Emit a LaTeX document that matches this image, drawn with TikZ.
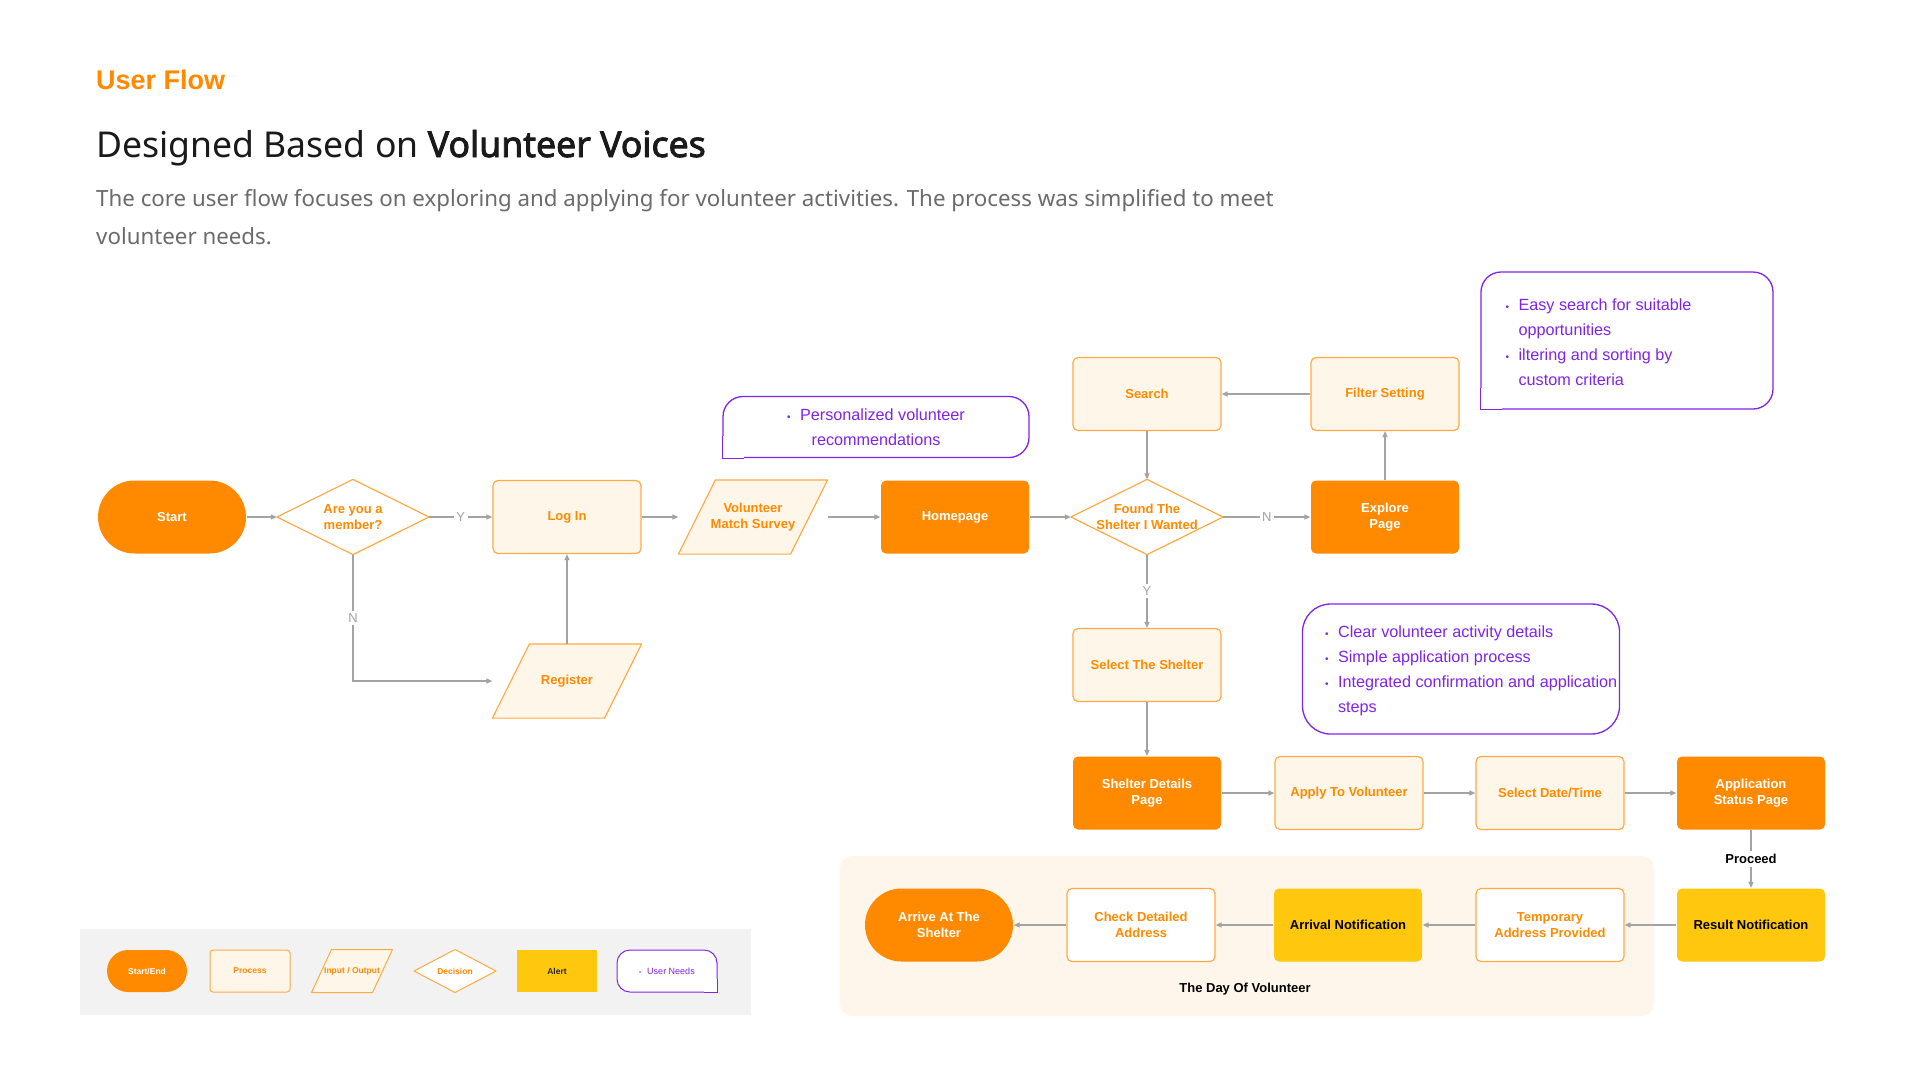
\documentclass[tikz,border=0pt]{standalone}
\usepackage{fontspec}
\setmainfont{Liberation Sans}
\newfontfamily\hfont{Noto Sans}
\newfontfamily\hbfont{Noto Sans}[FakeBold=2.5]
\usetikzlibrary{arrows.meta,backgrounds}
\definecolor{org}{HTML}{FF8A00}
\definecolor{orgl}{HTML}{FFAA45}
\definecolor{cream}{HTML}{FFF6EA}
\definecolor{ylw}{HTML}{FFC80F}
\definecolor{pur}{HTML}{8024EA}
\definecolor{gry}{HTML}{A3A3A3}
\definecolor{panelc}{HTML}{FFF6EB}
\definecolor{legc}{HTML}{F2F2F2}
\definecolor{txtg}{HTML}{6B6B6B}
\definecolor{ttlc}{HTML}{1A1A1A}
\newcommand{\bul}{\makebox[13pt][l]{\fontsize{10}{10}\selectfont\textbullet}}
\newcommand{\bulsp}{\makebox[13pt][l]{}}
\begin{document}
\begin{tikzpicture}[x=1pt,y=-1pt,
  nfont/.style={font=\fontsize{13}{16}\selectfont\bfseries},
  nodebase/.style={minimum width=148pt,minimum height=73pt,inner sep=2pt,align=center,nfont,rounded corners=5pt,line width=1.2pt},
  termbox/.style={nodebase,fill=org,text=white,rounded corners=36.5pt},
  fillbox/.style={nodebase,fill=org,text=white},
  proc/.style={nodebase,draw=orgl,fill=cream,text=org},
  wproc/.style={nodebase,draw=orgl,fill=white,text=org},
  alertbox/.style={nodebase,fill=ylw,text=black},
  holder/.style={nodebase,text=org},
  dholder/.style={holder,minimum width=151pt,minimum height=74pt},
  dpath/.style={draw=orgl,fill=white,line width=1.2pt,line join=round},
  iopath/.style={draw=orgl,fill=cream,line width=1.2pt,line join=round},
  conn/.style={draw=gry,line width=1.2pt,-{Triangle[length=6pt,width=5pt]}},
  lbl/.style={fill=white,text=gry,font=\fontsize{13}{15}\selectfont,inner sep=2.5pt},
  blbl/.style={fill=white,text=black,font=\fontsize{13}{15}\selectfont\bfseries,inner sep=3pt},
  needs/.style={draw=pur,line width=1.3pt,fill=white,rounded corners=20pt,inner sep=0pt},
  ntext/.style={text=pur,font=\fontsize{16.2}{25}\selectfont,inner sep=0pt},
  lg/.style={minimum width=80pt,minimum height=42pt,inner sep=1pt,align=center,font=\fontsize{8.5}{10}\selectfont\bfseries,line width=1pt,rounded corners=3pt},
  lgterm/.style={lg,fill=org,text=white,rounded corners=21pt},
  lgproc/.style={lg,draw=orgl,fill=cream,text=org},
  lghold/.style={lg,text=org},
  lgalert/.style={lg,fill=ylw,text=black!85,rounded corners=0pt},
  lgneeds/.style={lg,draw=pur,fill=white,text=pur,rounded corners=13pt,font=\fontsize{9}{10}\selectfont}
]
\useasboundingbox (0,0) rectangle (1920,1080);
\begin{scope}[on background layer]
  \fill[white] (0,0) rectangle (1920,1080);
  \node[fill=panelc,rounded corners=12pt,minimum width=814pt,minimum height=160pt,inner sep=0pt] (daypanel) at (1247,936) {};
  \node[fill=legc,minimum width=671pt,minimum height=86pt,inner sep=0pt] (legend) at (415.5,972) {};
\end{scope}

% header
\node[anchor=base west,inner sep=0pt,text=org,font=\fontsize{27}{30}\selectfont\bfseries] (uflow) at (96,89) {User Flow};
\node[anchor=base west,inner sep=0pt,text=ttlc,font=\hfont\fontsize{35.6}{40}\selectfont] (title) at (96,157) {Designed Based on {\hbfont Volunteer Voices}};
\node[anchor=base west,inner sep=0pt,text=txtg,font=\hfont\fontsize{22.3}{26}\selectfont] (para1) at (96,206) {The core user flow focuses on exploring and applying for volunteer activities. The process was simplified to meet};
\node[anchor=base west,inner sep=0pt,text=txtg,font=\hfont\fontsize{22.3}{26}\selectfont] (para2) at (96,244) {volunteer needs.};

% main flow
\node[termbox] (start) at (172,517) {Start};
\node[dholder] (member) at (353,517) {Are you a\\member?};
\node[proc] (login) at (567,517) {Log In};
\node[holder] (survey) at (753,517) {Volunteer\\Match Survey};
\node[fillbox] (home) at (955,517) {Homepage};
\node[dholder] (found) at (1147,517) {Found The\\Shelter I Wanted};
\node[fillbox] (explore) at (1385,517) {Explore\\Page};
\node[proc] (search) at (1147,394) {Search};
\node[proc] (filter) at (1385,394) {Filter Setting};
\node[holder] (register) at (567,681) {Register};
\node[proc] (select) at (1147,665) {Select The Shelter};
\node[fillbox] (details) at (1147,793) {Shelter Details\\Page};
\node[proc] (apply) at (1349,793) {Apply To Volunteer};
\node[proc] (date) at (1550,793) {Select Date/Time};
\node[fillbox] (status) at (1751,793) {Application\\Status Page};
\node[alertbox] (result) at (1751,925) {Result Notification};
\node[wproc] (temp) at (1550,925) {Temporary\\Address Provided};
\node[alertbox] (arrival) at (1348,925) {Arrival Notification};
\node[wproc] (check) at (1141,925) {Check Detailed\\Address};
\node[termbox] (arrive) at (939,925) {Arrive At The\\Shelter};
\node[inner sep=0pt,font=\fontsize{13}{15}\selectfont\bfseries] (daylbl) at (1245,989) {The Day Of Volunteer};

% user needs boxes
\node[needs,minimum width=306pt,minimum height=61pt] (needa) at (876,427) {};
\node[ntext,align=center] (needat) at (needa.center) {\bul Personalized volunteer\\recommendations};
\fill[white] (needa.south west) rectangle ++(22,-22);
\draw[pur,line width=1.3pt] ([yshift=22pt]needa.south west) -- (needa.south west) -- ([xshift=22pt]needa.south west);

\node[needs,minimum width=292pt,minimum height=137pt] (needb) at (1627,340.5) {};
\node[ntext,align=left,anchor=west] (needbt) at ([xshift=25pt,yshift=-2pt]needb.west) {\bul Easy search for suitable\\\bulsp opportunities\\\bul iltering and sorting by\\\bulsp custom criteria};
\fill[white] (needb.south west) rectangle ++(22,-22);
\draw[pur,line width=1.3pt] ([yshift=22pt]needb.south west) -- (needb.south west) -- ([xshift=22pt]needb.south west);

\node[needs,rounded corners=28pt,minimum width=317pt,minimum height=130pt] (needc) at (1461,669) {};
\node[ntext,align=left,anchor=west] (needct) at ([xshift=23pt,yshift=-2pt]needc.west) {\bul Clear volunteer activity details\\\bul Simple application process\\\bul Integrated confirmation and application\\\bulsp steps};

% legend
\node[lgterm] (lse) at (147,971) {Start/End};
\node[lgproc] (lpr) at (250,971) {Process};
\node[lghold] (lio) at (352,971) {Input / Output};
\node[lghold,minimum width=81pt] (ldec) at (455,971) {Decision};
\node[lgalert] (lal) at (557,971) {Alert};
\node[lgneeds,minimum width=100pt] (lun) at (667,971) {\makebox[8pt][l]{\fontsize{6}{6}\selectfont\textbullet}User Needs};
\fill[white] (lun.south east) rectangle ++(-14,-14);
\draw[pur,line width=1pt] ([yshift=14pt]lun.south east) -- (lun.south east) -- ([xshift=-14pt]lun.south east);

% shapes behind the text holders
\begin{scope}[on background layer]
  \path[dpath] (member.north) -- (member.east) -- (member.south) -- (member.west) -- cycle;
  \path[dpath] (found.north) -- (found.east) -- (found.south) -- (found.west) -- cycle;
  \path[iopath] ([xshift=37pt]survey.north west) -- (survey.north east) -- ([xshift=-37pt]survey.south east) -- (survey.south west) -- cycle;
  \path[iopath] ([xshift=37pt]register.north west) -- (register.north east) -- ([xshift=-37pt]register.south east) -- (register.south west) -- cycle;
  \path[iopath,line width=1pt] ([xshift=20pt]lio.north west) -- (lio.north east) -- ([xshift=-20pt]lio.south east) -- (lio.south west) -- cycle;
  \path[dpath,line width=1pt] (ldec.north) -- (ldec.east) -- (ldec.south) -- (ldec.west) -- cycle;
\end{scope}

% connectors
\draw[conn] (start.east) -- (member.west);
\draw[conn] (member.east) -- node[lbl]{Y} (login.west);
\draw[conn] (member.south) |- node[lbl,pos=0.25]{N} (register.west);
\draw[conn] (register.north) -- (login.south);
\draw[conn] (login.east) -- (survey.west);
\draw[conn] (survey.east) -- (home.west);
\draw[conn] (home.east) -- (found.west);
\draw[conn] (found.east) -- node[lbl]{N} (explore.west);
\draw[conn] (explore.north) -- (filter.south);
\draw[conn] (filter.west) -- (search.east);
\draw[conn] (search.south) -- (found.north);
\draw[conn] (found.south) -- node[lbl]{Y} (select.north);
\draw[conn] (select.south) -- (details.north);
\draw[conn] (details.east) -- (apply.west);
\draw[conn] (apply.east) -- (date.west);
\draw[conn] (date.east) -- (status.west);
\draw[conn] (status.south) -- node[blbl]{Proceed} (result.north);
\draw[conn] (result.west) -- (temp.east);
\draw[conn] (temp.west) -- (arrival.east);
\draw[conn] (arrival.west) -- (check.east);
\draw[conn] (check.west) -- (arrive.east);
\end{tikzpicture}
\end{document}
